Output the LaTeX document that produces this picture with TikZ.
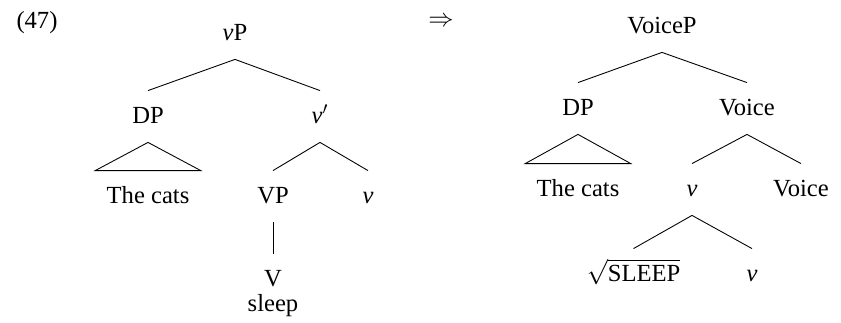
\documentclass[tikz,border=0pt]{standalone}
\usepackage{fontspec}
\setmainfont{Liberation Serif}
\usetikzlibrary{positioning}

\begin{document}
\begin{tikzpicture}[
  x=0.02cm, y=-0.02cm,
  every node/.style={font=\fontsize{14}{17}\selectfont},
  cat/.style={text height=10.4pt, text depth=2.7pt, inner ysep=8pt},
  leaf/.style={cat, inner xsep=6.3pt},
  branch/.style={draw, line width=0.5pt}
]
\useasboundingbox (0,0) rectangle (841,323);

% ---- Left tree: vP ----
\node (exno) at (37,23) {(47)};
\node (vP)   [cat]  at (235,33.5)  {\textit{v}P};
\node (DP)   [cat]  at (148,116.5) {DP};
\node (vbar) [cat]  at (320,116.5) {\textit{v}$'$};
\node (cats) [leaf] at (148,196.5) {The cats};
\node (VP)   [cat]  at (273,196.5) {VP};
\node (v)    [cat]  at (368,196.5) {\textit{v}};
\node (V)    [cat]  at (273,279.5) {V};
\node (sleep) at (V.south) {sleep};

% ---- Right tree: VoiceP ----
\node (arrow)  at (441,22) {$\Rightarrow$};
\node (VoiceP) [cat]  at (662,26.5)  {VoiceP};
\node (DPr)    [cat]  at (578,108.5) {DP};
\node (Voicebar) [cat] at (747,108.5) {Voice};
\node (catsr)  [leaf] at (578,189.5) {The cats};
\node (vr)     [cat]  at (692,189.5) {\textit{v}};
\node (Voice)  [cat]  at (801,189.5) {Voice};
\node (root)   [cat]  at (633.5,274.5) {$\sqrt{\mbox{SLEEP}}$};
\node (vhead)  [cat]  at (752,274.5) {\textit{v}};

% ---- Branches ----
\draw [branch] (vP.south) -- (DP.north);
\draw [branch] (vP.south) -- (vbar.north);
\draw [branch] (DP.south) -- (cats.north west) -- (cats.north east) -- cycle;
\draw [branch] (vbar.south) -- (VP.north);
\draw [branch] (vbar.south) -- (v.north);
\draw [branch] (VP.south) -- (V.north);

\draw [branch] (VoiceP.south) -- (DPr.north);
\draw [branch] (VoiceP.south) -- (Voicebar.north);
\draw [branch] (DPr.south) -- (catsr.north west) -- (catsr.north east) -- cycle;
\draw [branch] (Voicebar.south) -- (vr.north);
\draw [branch] (Voicebar.south) -- (Voice.north);
\draw [branch] (vr.south) -- (root.north);
\draw [branch] (vr.south) -- (vhead.north);
\end{tikzpicture}
\end{document}
